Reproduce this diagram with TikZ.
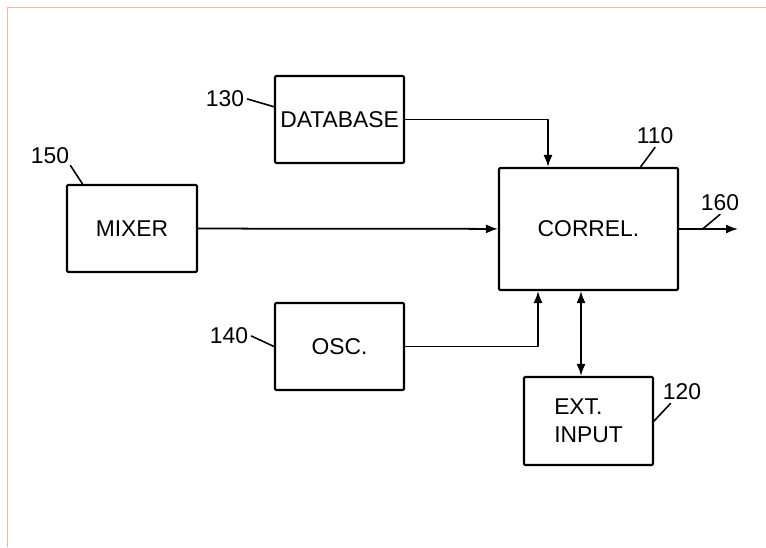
\documentclass[tikz,border=0pt]{standalone}
\usepackage{fontspec}
\setmainfont{Liberation Sans}
\usetikzlibrary{arrows.meta,calc}
\definecolor{frameline}{RGB}{234,122,84}
\begin{document}
\begin{tikzpicture}[x=0.02cm,y=-0.02cm,
		font=\fontsize{13}{16}\selectfont, line join=round, line cap=round,
		>={Latex[length=2.4mm,width=1.8mm]},
		block/.style={draw,line width=1.2pt,rounded corners=0.6pt,inner sep=0pt,
			minimum width=2.58cm,minimum height=1.74cm},
		refnum/.style={inner sep=0.06cm},
		lead/.style={line width=0.9pt},
		arr/.style={->,line width=1pt}]
	\useasboundingbox (0,0) rectangle (766,547);
	\draw[frameline!55,line width=0.45pt] (766,7) -- (7,7) -- (7,547);
	% blocks
	\node[block] (db) at (339.5,119.5) {DATABASE};
	\node[block,minimum width=2.6cm] (mix) at (132,228.5) {MIXER};
	\node[block,minimum width=3.58cm,minimum height=2.44cm] (cor) at (588.5,229) {CORREL.};
	\node[block] (osc) at (339.5,346.5) {OSC.};
	\node[block,minimum height=1.76cm,align=left] (ext) at (588.5,421) {EXT.\\INPUT};
	\coordinate (out) at (738,229);
	% reference numerals
	\node[refnum] (l130) at (225,99) {130};
	\node[refnum,inner sep=0.02cm] (l150) at (50,156) {150};
	\node[refnum] (l110) at (655,136) {110};
	\node[refnum] (l160) at (720,203) {160};
	\node[refnum] (l140) at (229,336) {140};
	\node[refnum] (l120) at (682,392) {120};
	\draw[lead] (l130.east) -- (db.169);
	\draw[lead] (l150.south east) -- (mix.138);
	\draw[lead] (l110.south) -- (cor.50);
	\draw[lead] (l160.south) -- ($(cor.east)!0.4!(out)$);
	\draw[lead] (l140.east) -- (osc.west);
	\draw[lead] (l120.225) -- (ext.east);
	% signal paths
	\draw[arr] (db.east) -| ([xshift=-0.81cm]cor.north);
	\draw[arr] (mix) -- (cor);
	\draw[arr] (osc.east) -| ([xshift=-1.01cm]cor.south);
	\draw[arr,<->] ([xshift=-0.15cm]cor.south) -- ([xshift=-0.15cm]ext.north);
	\draw[arr] (cor.east) -- (out);
\end{tikzpicture}
\end{document}
